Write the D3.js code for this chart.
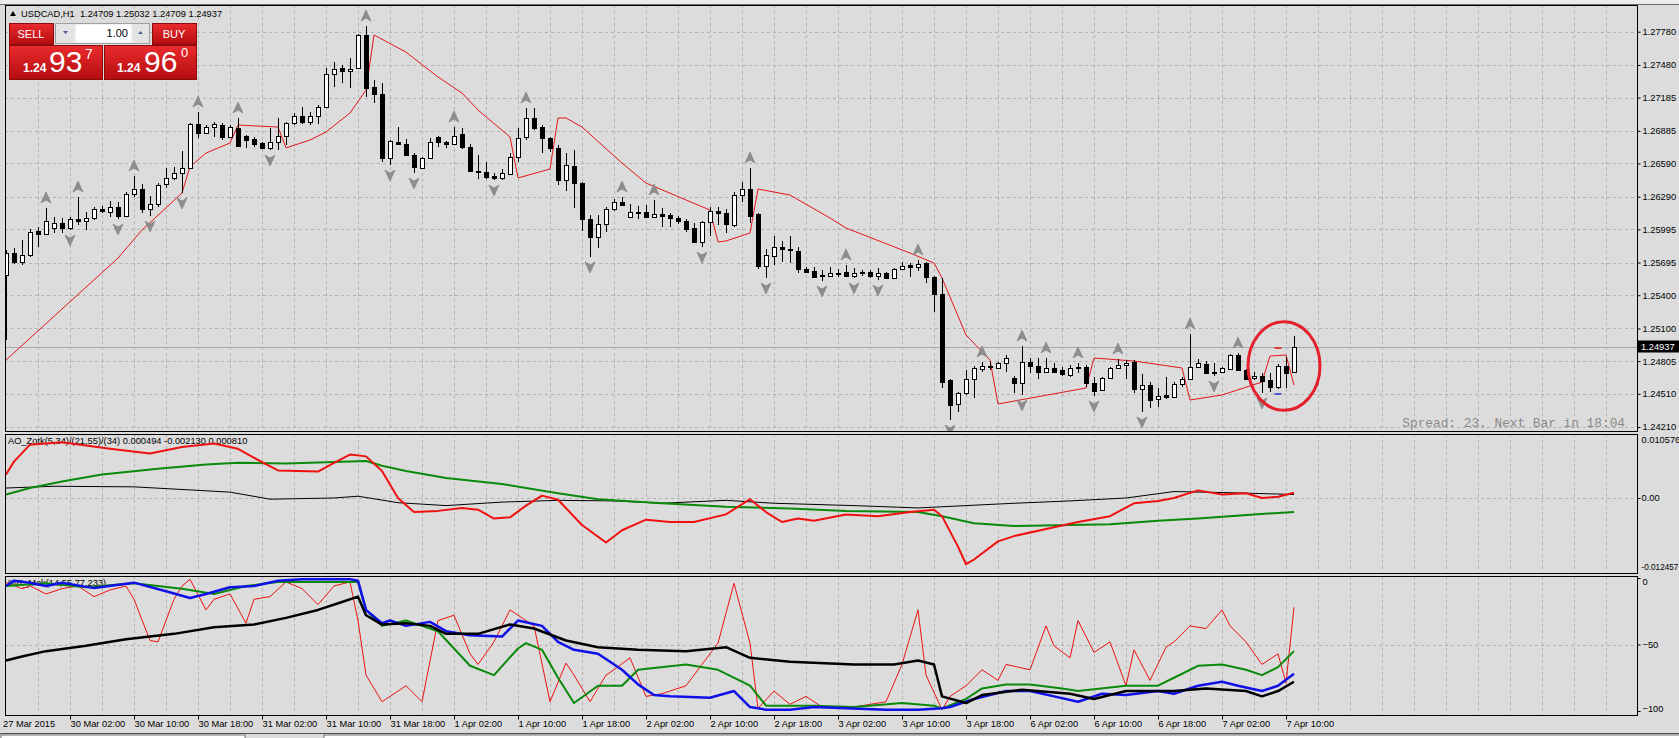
<!DOCTYPE html>
<html>
<head>
<meta charset="utf-8">
<script src="https://cdnjs.cloudflare.com/ajax/libs/d3/7.8.5/d3.min.js"></script>
<style>
body { margin:0; background:#dcdcdc; overflow:hidden; }
text { font-family: "Liberation Sans", Arial, sans-serif; }
</style>
</head>
<body>
<script>
/*jshint esversion: 6 */
// USDCAD H1, one entry per bar, bar 0 = 27 Mar 2015 18:00
var opens = [1.25583,1.25781,1.25700,1.25763,1.25980,1.25953,1.26007,1.26052,1.26007,1.26088,1.26070,1.26097,1.26179,1.26151,1.26197,1.26115,1.26314,1.26359,1.26179,1.26224,1.26404,1.26459,1.26504,1.26549,1.26946,1.26865,1.26919,1.26937,1.26829,1.26910,1.26838,1.26811,1.26775,1.26729,1.26784,1.26838,1.26955,1.27018,1.26964,1.27018,1.27100,1.27398,1.27452,1.27425,1.27452,1.27750,1.27280,1.27217,1.26639,1.26784,1.26766,1.26666,1.26549,1.26639,1.26829,1.26784,1.26766,1.26856,1.26738,1.26522,1.26513,1.26477,1.26459,1.26495,1.26648,1.26829,1.27000,1.26919,1.26820,1.26729,1.26440,1.26567,1.26413,1.26088,1.25926,1.26043,1.26179,1.26242,1.26106,1.26142,1.26151,1.26106,1.26133,1.26124,1.26097,1.26070,1.26007,1.25881,1.26061,1.26160,1.26142,1.26034,1.26305,1.26359,1.26133,1.25664,1.25754,1.25835,1.25817,1.25799,1.25637,1.25619,1.25583,1.25574,1.25601,1.25610,1.25574,1.25601,1.25610,1.25574,1.25601,1.25556,1.25637,1.25673,1.25655,1.25691,1.25565,1.25411,1.24634,1.24418,1.24517,1.24643,1.24734,1.24761,1.24743,1.24788,1.24653,1.24607,1.24797,1.24761,1.24707,1.24743,1.24725,1.24680,1.24752,1.24752,1.24607,1.24544,1.24653,1.24743,1.24770,1.24797,1.24553,1.24589,1.24463,1.24499,1.24481,1.24598,1.24643,1.24752,1.24779,1.24698,1.24707,1.24734,1.24860,1.24725,1.24653,1.24671,1.24634,1.24571,1.24761,1.24709];
var highs = [1.25808,1.25826,1.25899,1.25998,1.26016,1.26188,1.26106,1.26097,1.26106,1.26287,1.26151,1.26197,1.26206,1.26251,1.26242,1.26332,1.26477,1.26404,1.26296,1.26413,1.26549,1.26558,1.26702,1.26955,1.27054,1.26937,1.26964,1.26955,1.26937,1.27000,1.26847,1.26829,1.26784,1.26910,1.27000,1.26964,1.27045,1.27100,1.27054,1.27118,1.27452,1.27506,1.27479,1.27542,1.27759,1.27831,1.27343,1.27316,1.26802,1.26919,1.26811,1.26684,1.26648,1.26820,1.26838,1.26793,1.26919,1.26910,1.26766,1.26666,1.26603,1.26504,1.26540,1.26684,1.26910,1.27091,1.27091,1.26937,1.26829,1.26757,1.26684,1.26711,1.26422,1.26124,1.26124,1.26197,1.26269,1.26287,1.26224,1.26206,1.26215,1.26260,1.26188,1.26142,1.26115,1.26088,1.26052,1.26070,1.26197,1.26197,1.26179,1.26332,1.26422,1.26549,1.26142,1.25817,1.25935,1.25890,1.25935,1.25835,1.25655,1.25655,1.25628,1.25655,1.25637,1.25673,1.25646,1.25628,1.25628,1.25646,1.25610,1.25646,1.25700,1.25691,1.25718,1.25700,1.25574,1.25556,1.24643,1.24526,1.24725,1.24761,1.24797,1.24797,1.24797,1.24860,1.24671,1.24941,1.24833,1.24833,1.24833,1.24788,1.24752,1.24770,1.24788,1.24770,1.24662,1.24662,1.24752,1.24824,1.24815,1.24815,1.24689,1.24616,1.24562,1.24662,1.24616,1.24662,1.25050,1.24824,1.24806,1.24788,1.24752,1.24869,1.24878,1.24734,1.24707,1.24698,1.24698,1.24779,1.24842,1.25032];
var lows = [1.24995,1.25682,1.25673,1.25745,1.25835,1.25944,1.25962,1.25962,1.25989,1.26034,1.25989,1.26079,1.26142,1.26106,1.26088,1.26106,1.26287,1.26142,1.26115,1.26197,1.26368,1.26440,1.26323,1.26549,1.26820,1.26865,1.26829,1.26802,1.26820,1.26747,1.26729,1.26738,1.26720,1.26711,1.26711,1.26757,1.26937,1.26946,1.26937,1.26946,1.27091,1.27280,1.27316,1.27271,1.27443,1.27190,1.27136,1.26603,1.26576,1.26766,1.26657,1.26504,1.26540,1.26630,1.26738,1.26729,1.26757,1.26720,1.26513,1.26449,1.26449,1.26440,1.26440,1.26486,1.26603,1.26802,1.26892,1.26684,1.26693,1.26395,1.26341,1.26188,1.25980,1.25745,1.25826,1.25971,1.26160,1.26206,1.26097,1.26088,1.26097,1.26097,1.26016,1.26016,1.26043,1.25971,1.25872,1.25835,1.25935,1.26034,1.25962,1.26016,1.26242,1.26052,1.25637,1.25556,1.25673,1.25700,1.25691,1.25601,1.25601,1.25556,1.25528,1.25565,1.25565,1.25565,1.25556,1.25574,1.25556,1.25537,1.25546,1.25546,1.25628,1.25565,1.25619,1.25510,1.25249,1.24562,1.24273,1.24346,1.24499,1.24472,1.24707,1.24725,1.24734,1.24707,1.24517,1.24499,1.24698,1.24643,1.24698,1.24698,1.24671,1.24662,1.24698,1.24571,1.24490,1.24535,1.24643,1.24734,1.24643,1.24517,1.24346,1.24382,1.24391,1.24463,1.24472,1.24571,1.24634,1.24743,1.24689,1.24671,1.24698,1.24725,1.24716,1.24634,1.24634,1.24517,1.24526,1.24553,1.24562,1.24709];
var closes = [1.25781,1.25700,1.25763,1.25971,1.25953,1.26070,1.26052,1.26007,1.26088,1.26070,1.26097,1.26179,1.26160,1.26197,1.26115,1.26314,1.26359,1.26179,1.26224,1.26395,1.26459,1.26504,1.26549,1.26946,1.26865,1.26919,1.26946,1.26829,1.26919,1.26747,1.26802,1.26766,1.26729,1.26784,1.26838,1.26955,1.27018,1.26964,1.27018,1.27100,1.27398,1.27443,1.27425,1.27443,1.27750,1.27271,1.27217,1.26639,1.26793,1.26766,1.26666,1.26558,1.26639,1.26784,1.26784,1.26766,1.26838,1.26738,1.26522,1.26513,1.26468,1.26459,1.26504,1.26648,1.26820,1.27000,1.26910,1.26820,1.26729,1.26440,1.26576,1.26413,1.26088,1.25926,1.26043,1.26179,1.26242,1.26215,1.26151,1.26151,1.26106,1.26133,1.26115,1.26097,1.26070,1.25998,1.25881,1.26061,1.26160,1.26142,1.26043,1.26305,1.26359,1.26115,1.25664,1.25763,1.25835,1.25817,1.25808,1.25637,1.25610,1.25565,1.25574,1.25601,1.25592,1.25574,1.25601,1.25610,1.25574,1.25601,1.25556,1.25637,1.25664,1.25655,1.25682,1.25565,1.25411,1.24616,1.24409,1.24517,1.24643,1.24743,1.24761,1.24752,1.24788,1.24833,1.24607,1.24797,1.24761,1.24707,1.24743,1.24707,1.24689,1.24743,1.24743,1.24607,1.24535,1.24653,1.24743,1.24770,1.24788,1.24553,1.24589,1.24454,1.24490,1.24481,1.24598,1.24643,1.24752,1.24788,1.24698,1.24707,1.24743,1.24860,1.24725,1.24643,1.24671,1.24625,1.24571,1.24761,1.24698,1.24937];

var priceTicks = [1.27780,1.27480,1.27185,1.26885,1.26590,1.26290,1.25995,1.25695,1.25400,1.25100,1.24805,1.24510,1.24210];
var lastPrice = 1.24937;
var headerText = "USDCAD,H1  1.24709 1.25032 1.24709 1.24937";

var firstDateLabel = "27 Mar 2015";
var timeTickBars = [8,16,24,32,40,48,56,64,72,80,88,96,104,112,120,128,136,144,152,160];
var timeTickLabels = ["30 Mar 02:00","30 Mar 10:00","30 Mar 18:00","31 Mar 02:00","31 Mar 10:00","31 Mar 18:00",
  "1 Apr 02:00","1 Apr 10:00","1 Apr 18:00","2 Apr 02:00","2 Apr 10:00","2 Apr 18:00","3 Apr 02:00","3 Apr 10:00",
  "3 Apr 18:00","6 Apr 02:00","6 Apr 10:00","6 Apr 18:00","7 Apr 02:00","7 Apr 10:00"];

// fractal arrows
var fractalUpBars = [5,9,16,24,29,45,56,65,77,81,93,105,114,122,127,130,134,139,148,154];
var fractalDownBars = [8,14,18,22,33,48,51,61,73,87,95,102,106,109,118,127,136,142,151,157];

// red stop line [bar, price]
var stopLine = [[0,1.24815],[14,1.25736],[17,1.25989],[22,1.26323],[23,1.26560],[25,1.26684],[28,1.26775],[29,1.26937],
  [34,1.26919],[35,1.26730],[38,1.26802],[40,1.26874],[43,1.27046],[45,1.27253],[46,1.27750],[50,1.27596],[54,1.27371],
  [57,1.27226],[59,1.27073],[63,1.26829],[64,1.26459],[68,1.26540],[69,1.27001],[70,1.27001],[72,1.26919],[77,1.26594],
  [80,1.26413],[88,1.26169],[89,1.25881],[90,1.25890],[93,1.25962],[94,1.26359],[98,1.26305],[103,1.26097],[105,1.26007],
  [113,1.25781],[116,1.25691],[117,1.25556],[120,1.25041],[123,1.24815],[124,1.24418],[135,1.24562],[136,1.24833],
  [141,1.24806],[147,1.24743],[148,1.24454],[152,1.24499],[157,1.24616],[158,1.24851],[160,1.24860],[161,1.24589]];

// hand drawn ellipse: centre bar, centre price, half width (bars), half height (price)
var ringBar = 159.75, ringPrice = 1.24761, ringHalfBars = 4.5, ringHalfPrice = 0.0040;
var markBars = [159, 159];
var markPrices = [1.24923, 1.24508];

// AO_Zotk subwindow [bar, value]
var aoTitle = "AO_Zotk(5,34)/(21,55)/(34) 0.000494 -0.002130 0.000810";
var aoTicks = [0.010576, 0, -0.012457];
var aoRed = [[0,0.0040],[1,0.0062],[3,0.0091],[7,0.0095],[13,0.0084],[18,0.0076],[22,0.0087],[26,0.0093],[29,0.0084],
  [32,0.0061],[34,0.0047],[39,0.0045],[41,0.0060],[43,0.0074],[45,0.0071],[47,0.0046],[49,0.0000],[51,-0.0024],
  [54,-0.0022],[57,-0.0017],[59,-0.0020],[61,-0.0035],[63,-0.0033],[65,-0.0013],[67,0.0004],[69,-0.0003],[72,-0.0046],
  [75,-0.0076],[77,-0.0055],[80,-0.0037],[83,-0.0041],[86,-0.0041],[90,-0.0028],[93,-0.0002],[95,-0.0024],[97,-0.0041],
  [99,-0.0035],[101,-0.0039],[105,-0.0028],[109,-0.0031],[113,-0.0024],[116,-0.0020],[117,-0.0031],[119,-0.0083],
  [120,-0.0113],[121,-0.0105],[124,-0.0074],[126,-0.0065],[131,-0.0050],[134,-0.0041],[138,-0.0031],[141,-0.0009],
  [144,-0.0005],[146,0.0000],[149,0.0013],[152,0.0006],[155,0.0008],[157,0.0000],[159,0.0002],[161,0.0009]];
var aoGreen = [[0,0.0006],[3,0.0017],[7,0.0028],[12,0.0040],[19,0.0050],[25,0.0057],[29,0.0060],[35,0.0059],[42,0.0062],
  [45,0.0063],[47,0.0055],[50,0.0046],[55,0.0034],[62,0.0024],[69,0.0008],[74,-0.0002],[82,-0.0009],[90,-0.0015],
  [98,-0.0018],[105,-0.0022],[114,-0.0024],[117,-0.0031],[121,-0.0043],[126,-0.0048],[133,-0.0046],[138,-0.0045],
  [144,-0.0039],[149,-0.0035],[156,-0.0028],[161,-0.0024]];
var aoBlack = [[0,0.0017],[6,0.0020],[16,0.0019],[28,0.0010],[33,-0.0002],[41,0.0000],[44,0.0003],[49,-0.0008],
  [55,-0.0013],[62,-0.0007],[69,-0.0004],[76,-0.0005],[82,-0.0009],[90,-0.0004],[96,-0.0009],[106,-0.0013],
  [114,-0.0017],[120,-0.0013],[126,-0.0009],[133,-0.0005],[140,0.0000],[146,0.0011],[153,0.0009],[161,0.0006]];

// %R_Mok subwindow [bar, value]
var wprTitle = "%R_Mok(14,55,77,233)";
var wprTicks = [0, -50, -100];
var wprRed = [[0,-3.5],[2,-8],[3,-6],[5,-12],[7,-8],[9,-6],[11,-14],[13,-9],[15,-6],[16,-16],[18,-47],[19,-48],[21,-16],
  [22,-6],[23,-1],[25,-24],[26,-16],[28,-12],[30,-34],[31,-16],[33,-14],[35,-3],[37,-8],[39,-20],[41,-6],[43,-3],
  [44,-32],[45,-73],[47,-93],[50,-81],[52,-93],[54,-32],[56,-28],[58,-57],[59,-65],[61,-48],[63,-24],[66,-36],[68,-93],
  [70,-64],[71,-73],[73,-93],[75,-73],[76,-69],[78,-60],[80,-89],[82,-87],[85,-81],[87,-65],[89,-49],[91,-4],[93,-49],
  [94,-98],[96,-85],[98,-95],[100,-89],[102,-97],[106,-97],[110,-93],[112,-65],[114,-24],[115,-73],[117,-99],[118,-89],
  [120,-81],[122,-69],[124,-77],[125,-65],[128,-69],[130,-36],[131,-51],[133,-60],[134,-32],[136,-56],[138,-48],
  [140,-81],[141,-54],[143,-77],[145,-52],[146,-48],[148,-36],[150,-38],[152,-24],[153,-36],[155,-48],[157,-65],
  [159,-57],[160,-79],[161,-22]];
var wprBlue = [[0,-6],[1,-2],[3,-3.5],[5,-6],[7,-3.5],[11,-7.6],[16,-3.5],[20,-10],[23,-15],[25,-12],[28,-7],[31,-6],
  [34,-2],[37,-1],[40,-1],[43,-1],[44,-2],[45,-24],[47,-34],[48,-32],[50,-36],[53,-33],[55,-40],[58,-43],[62,-44],
  [64,-32],[67,-36],[69,-48],[71,-54],[74,-57],[77,-69],[79,-80],[81,-88],[83,-89],[88,-90],[91,-85],[93,-97],[95,-99],
  [98,-99],[101,-97],[105,-98],[110,-99],[114,-99],[117,-98],[118,-97],[121,-91],[123,-88],[125,-85],[128,-85],
  [131,-89],[134,-93],[137,-87],[140,-88],[144,-85],[146,-87],[149,-81],[152,-78],[154,-81],[157,-85],[159,-81],[161,-72]];
var wprGreen = [[0,-6],[5,-4],[10,-7],[16,-4],[22,-8],[26,-12],[30,-6],[34,-3],[40,-3],[44,-3],[45,-24],[47,-36],[50,-32],
  [54,-40],[58,-66],[61,-73],[64,-53],[65,-49],[67,-54],[69,-75],[71,-94],[74,-81],[77,-81],[79,-69],[85,-65],[89,-69],
  [93,-81],[95,-96],[101,-96],[106,-97],[112,-94],[116,-96],[117,-98],[120,-91],[122,-83],[125,-80],[128,-80],[132,-83],
  [134,-85],[140,-81],[144,-81],[146,-75],[149,-66],[152,-65],[155,-69],[157,-73],[159,-67],[161,-55]];
var wprBlack = [[0,-62],[2,-59],[5,-55],[10,-51],[15,-46],[21,-42],[26,-37],[31,-35],[35,-30],[39,-24],[42,-18],[44,-14],
  [45,-28],[47,-35],[50,-34],[53,-36],[55,-42],[59,-42],[63,-35],[66,-38],[70,-47],[74,-52],[79,-54],[85,-55],[90,-52],
  [93,-60],[98,-63],[106,-65],[111,-65],[114,-62],[116,-65],[117,-89],[120,-94],[122,-88],[127,-84],[133,-87],[136,-91],
  [140,-85],[144,-85],[146,-85],[150,-83],[155,-85],[157,-89],[159,-85],[161,-78]];

var spreadText = "Spread: 23. Next Bar in 18:04";

// ---------------------------------------------------------------
var W = 1679, H = 738;
var left = 5, right = 1637;
var mainP = {top: 5, bottom: 431};
var aoP = {top: 434, bottom: 573};
var wprP = {top: 576, bottom: 715};
var gridColor = "#b2b2b2";
var fontSize = 9.3;

var x = d3.scaleLinear().domain([0, 161]).range([6, 1294]);
var yMain = d3.scaleLinear().domain([1.24210, 1.27780]).range([427, 31.7]);
var yAo = d3.scaleLinear().domain([-0.012457, 0.010576]).range([571, 436]);
var yWpr = d3.scaleLinear().domain([-100, 0]).range([711, 578]);

var svg = d3.select("body").append("svg")
    .attr("width", W).attr("height", H)
    .style("display", "block");

svg.append("rect").attr("width", W).attr("height", H).attr("fill", "#dcdcdc");
svg.append("rect").attr("width", W).attr("height", 4).attr("fill", "#ececec");

var defs = svg.append("defs");
function addClip(id, p) {
  defs.append("clipPath").attr("id", id).append("rect")
      .attr("x", left).attr("y", p.top).attr("width", right - left).attr("height", p.bottom - p.top);
}
addClip("clipMain", mainP);
addClip("clipAo", aoP);
addClip("clipWpr", wprP);

var gridBars = d3.range(4, 204, 4).filter(function(b){ return x(b) < right - 2; });

function drawGrid(p, yValues) {
  var g = svg.append("g").attr("class", "grid");
  g.selectAll(".vg").data(gridBars).enter().append("line")
      .attr("x1", function(d){ return Math.round(x(d)) + 0.5; })
      .attr("x2", function(d){ return Math.round(x(d)) + 0.5; })
      .attr("y1", p.top).attr("y2", p.bottom)
      .attr("stroke", gridColor).attr("stroke-dasharray", "3,3");
  g.selectAll(".hg").data(yValues).enter().append("line")
      .attr("x1", left).attr("x2", right)
      .attr("y1", function(d){ return Math.round(d) + 0.5; })
      .attr("y2", function(d){ return Math.round(d) + 0.5; })
      .attr("stroke", gridColor).attr("stroke-dasharray", "3,3");
}
drawGrid(mainP, priceTicks.map(function(d){ return yMain(d); }));
drawGrid(aoP, [yAo(0)]);
drawGrid(wprP, [yWpr(-50)]);

// ---------------- main window ----------------
var main = svg.append("g").attr("clip-path", "url(#clipMain)");

// current price line
main.append("line")
    .attr("x1", left).attr("x2", right)
    .attr("y1", Math.round(yMain(lastPrice)) + 0.5).attr("y2", Math.round(yMain(lastPrice)) + 0.5)
    .attr("stroke", "#a8a8a8");

var stopPath = d3.line()
    .x(function(d){ return x(d[0]); })
    .y(function(d){ return yMain(d[1]); });
main.append("path").datum(stopLine)
    .attr("d", stopPath).attr("fill", "none")
    .attr("stroke", "#e3161b").attr("stroke-width", 1);

var bars = d3.range(opens.length);
var candles = main.selectAll(".candle").data(bars).enter().append("g").attr("class", "candle");
candles.append("line")
    .attr("x1", function(i){ return Math.round(x(i)) + 0.5; })
    .attr("x2", function(i){ return Math.round(x(i)) + 0.5; })
    .attr("y1", function(i){ return yMain(highs[i]); })
    .attr("y2", function(i){ return yMain(lows[i]); })
    .attr("stroke", "#000");
candles.append("rect")
    .attr("x", function(i){ return Math.round(x(i)) - 1.5; })
    .attr("width", 4)
    .attr("y", function(i){ return Math.round(yMain(Math.max(opens[i], closes[i]))) + 0.5; })
    .attr("height", function(i){ return Math.max(0, Math.round(Math.abs(yMain(opens[i]) - yMain(closes[i])))); })
    .attr("fill", function(i){ return closes[i] >= opens[i] ? "#fff" : "#000"; })
    .attr("stroke", "#000");

// fractal arrows
var arrowUp = "M0,-6L5,5L0,2L-5,5Z";
main.selectAll(".fup").data(fractalUpBars).enter().append("path")
    .attr("d", arrowUp)
    .attr("transform", function(i){ return "translate(" + x(i) + "," + (yMain(highs[i]) - 10) + ")"; })
    .attr("fill", "#8e8e8e").attr("stroke", "#7a7a7a").attr("stroke-width", 0.6);
main.selectAll(".fdn").data(fractalDownBars).enter().append("path")
    .attr("d", arrowUp)
    .attr("transform", function(i){ return "translate(" + x(i) + "," + (yMain(lows[i]) + 10) + ") rotate(180)"; })
    .attr("fill", "#8e8e8e").attr("stroke", "#7a7a7a").attr("stroke-width", 0.6);

// marks inside the ring
main.selectAll(".mark").data(markBars).enter().append("line")
    .attr("x1", function(d){ return x(d) - 3.5; })
    .attr("x2", function(d){ return x(d) + 3.5; })
    .attr("y1", function(d, i){ return yMain(markPrices[i]); })
    .attr("y2", function(d, i){ return yMain(markPrices[i]); })
    .attr("stroke", function(d, i){ return i === 0 ? "#e3161b" : "#1f2fd8"; })
    .attr("stroke-width", 1.5);

main.append("ellipse")
    .attr("cx", x(ringBar)).attr("cy", yMain(ringPrice))
    .attr("rx", x(ringBar + ringHalfBars) - x(ringBar))
    .attr("ry", yMain(ringPrice - ringHalfPrice) - yMain(ringPrice))
    .attr("fill", "none").attr("stroke", "#e3202b").attr("stroke-width", 3);

svg.append("text")
    .attr("x", 1625).attr("y", 427)
    .attr("text-anchor", "end")
    .style("font-family", "'Liberation Mono', 'DejaVu Sans Mono', monospace")
    .style("font-size", "12.8px")
    .attr("fill", "#8a8a8a")
    .text(spreadText);

// ---------------- sub windows ----------------
function drawSeries(g, data, yScale, color, width) {
  var line = d3.line()
      .x(function(d){ return x(d[0]); })
      .y(function(d){ return yScale(d[1]); });
  g.append("path").datum(data)
      .attr("d", line).attr("fill", "none")
      .attr("stroke", color).attr("stroke-width", width)
      .attr("stroke-linejoin", "round");
}

svg.append("text").attr("x", 8).attr("y", aoP.top + 10)
    .style("font-size", fontSize + "px").attr("fill", "#000").text(aoTitle);
var ao = svg.append("g").attr("clip-path", "url(#clipAo)");
drawSeries(ao, aoBlack, yAo, "#000", 1);
drawSeries(ao, aoGreen, yAo, "#0a8a0a", 2);
drawSeries(ao, aoRed, yAo, "#f01010", 2);

svg.append("text").attr("x", 8).attr("y", wprP.top + 10)
    .style("font-size", fontSize + "px").attr("fill", "#000").text(wprTitle);
var wpr = svg.append("g").attr("clip-path", "url(#clipWpr)");
drawSeries(wpr, wprRed, yWpr, "#f01010", 1);
drawSeries(wpr, wprGreen, yWpr, "#0a8a0a", 2);
drawSeries(wpr, wprBlue, yWpr, "#1010e8", 2.5);
drawSeries(wpr, wprBlack, yWpr, "#000", 2.5);

// ---------------- frames ----------------
[mainP, aoP, wprP].forEach(function(p){
  svg.append("rect")
      .attr("x", left + 0.5).attr("y", p.top + 0.5)
      .attr("width", right - left).attr("height", p.bottom - p.top)
      .attr("fill", "none").attr("stroke", "#000");
});
svg.append("line").attr("x1", 0).attr("x2", W).attr("y1", 4.5).attr("y2", 4.5).attr("stroke", "#6a6a6a");

// ---------------- axes ----------------
function styleAxis(g) {
  g.select(".domain").remove();
  g.selectAll("text").style("font-size", fontSize + "px").attr("fill", "#000")
      .style("font-family", "'Liberation Sans', Arial, sans-serif");
  g.selectAll("line").attr("stroke", "#000");
}

var priceAxis = d3.axisRight(yMain).tickValues(priceTicks).tickSize(3).tickPadding(2)
    .tickFormat(d3.format(".5f"));
svg.append("g").attr("transform", "translate(" + (right + 0.5) + ",0)").call(priceAxis).call(styleAxis);

// current price tag
var tagY = yMain(lastPrice);
svg.append("rect").attr("x", right + 1).attr("y", tagY - 6).attr("width", W - right - 1).attr("height", 12).attr("fill", "#000");
svg.append("text").attr("x", right + 4).attr("y", tagY).attr("dy", "0.34em")
    .style("font-size", fontSize + "px").attr("fill", "#fff").text(lastPrice.toFixed(5));

var aoAxis = d3.axisRight(yAo).tickValues(aoTicks).tickSize(0).tickPadding(4)
    .tickFormat(function(d){ return d === 0 ? "0.00" : d.toFixed(6); });
var aoG = svg.append("g").attr("transform", "translate(" + (right + 0.5) + ",0)").call(aoAxis).call(styleAxis);
aoG.selectAll("text").attr("dy", function(d){ return d > 0 ? "0.75em" : (d < 0 ? "-0.15em" : "0.32em"); });
// the widest label has to fit between the scale line and the window edge
aoG.selectAll("text").filter(function(d){ return d < 0; }).style("font-size", "8.2px");
aoG.selectAll(".tick").filter(function(d){ return d !== 0; }).select("line").remove();
aoG.selectAll(".tick").filter(function(d){ return d === 0; }).select("line").attr("x2", 3);

var wprAxis = d3.axisRight(yWpr).tickValues(wprTicks).tickSize(3).tickPadding(2).tickFormat(d3.format("d"));
var wprG = svg.append("g").attr("transform", "translate(" + (right + 0.5) + ",0)").call(wprAxis).call(styleAxis);
wprG.selectAll("text").attr("dy", function(d){ return d === 0 ? "0.75em" : (d === -100 ? "0.05em" : "0.32em"); });

var timeAxis = d3.axisBottom(x).tickValues(timeTickBars).tickSize(4)
    .tickFormat(function(d, i){ return timeTickLabels[i]; });
var tg = svg.append("g").attr("transform", "translate(0," + (wprP.bottom + 0.5) + ")").call(timeAxis).call(styleAxis);
tg.selectAll("text").attr("text-anchor", "start").attr("x", 0).attr("y", 5);
svg.append("text").attr("x", 3).attr("y", wprP.bottom + 5).attr("dy", "0.71em")
    .style("font-size", fontSize + "px").attr("fill", "#000").text(firstDateLabel);

// bottom tab strip
svg.append("line").attr("x1", 0).attr("x2", W).attr("y1", 733.5).attr("y2", 733.5).attr("stroke", "#505050");
svg.append("rect").attr("x", 1).attr("y", 735).attr("width", 244).attr("height", 4).attr("fill", "#fff").attr("stroke", "#707070");
svg.append("rect").attr("x", 324).attr("y", 735).attr("width", 1360).attr("height", 4).attr("fill", "#fff").attr("stroke", "#707070");

// ---------------- header + one-click trading ----------------
svg.append("path").attr("d", "M10,16L13,11L16,16Z").attr("fill", "#000");
svg.append("text").attr("x", 21).attr("y", 17)
    .style("font-size", fontSize + "px").attr("fill", "#000")
    .attr("xml:space", "preserve").text(headerText);

var grad = defs.append("linearGradient").attr("id", "redGrad").attr("x1", 0).attr("y1", 0).attr("x2", 0).attr("y2", 1);
grad.append("stop").attr("offset", "0%").attr("stop-color", "#ea2b2e");
grad.append("stop").attr("offset", "100%").attr("stop-color", "#b40c0e");

var panel = svg.append("g");
function redBox(x0, y0, w, h) {
  panel.append("rect").attr("x", x0 + 0.5).attr("y", y0 + 0.5).attr("width", w).attr("height", h)
      .attr("fill", "url(#redGrad)").attr("stroke", "#8c0b0b");
}
redBox(9, 23, 44, 21);
redBox(152, 23, 44, 21);
redBox(9, 45, 93, 34);
redBox(104, 45, 92, 34);

panel.append("rect").attr("x", 55.5).attr("y", 23.5).attr("width", 94).attr("height", 20)
    .attr("fill", "#e4e4e4").attr("stroke", "#a0a0a0");
panel.append("rect").attr("x", 75.5).attr("y", 24.5).attr("width", 56).attr("height", 18).attr("fill", "#fff");
panel.append("path").attr("d", "M63,31L68,31L65.5,34Z").attr("fill", "#4a5f8a");
panel.append("path").attr("d", "M138,34L143,34L140.5,31Z").attr("fill", "#4a5f8a");
panel.append("text").attr("x", 128).attr("y", 37).attr("text-anchor", "end")
    .style("font-size", "11px").attr("fill", "#000").text("1.00");

function wText(tx, ty, str, size, anchor, weight) {
  panel.append("text").attr("x", tx).attr("y", ty).attr("text-anchor", anchor || "start")
      .style("font-size", size + "px").style("font-weight", weight || "normal")
      .attr("fill", "#fff").text(str);
}
wText(31, 38, "SELL", 11, "middle");
wText(174, 38, "BUY", 11, "middle");
wText(23, 72, "1.24", 12, "start", "bold");
wText(49, 72, "93", 30);
wText(85, 59, "7", 14);
wText(117, 72, "1.24", 12, "start", "bold");
wText(144, 72, "96", 30);
wText(181, 57, "0", 13);
</script>
</body>
</html>
